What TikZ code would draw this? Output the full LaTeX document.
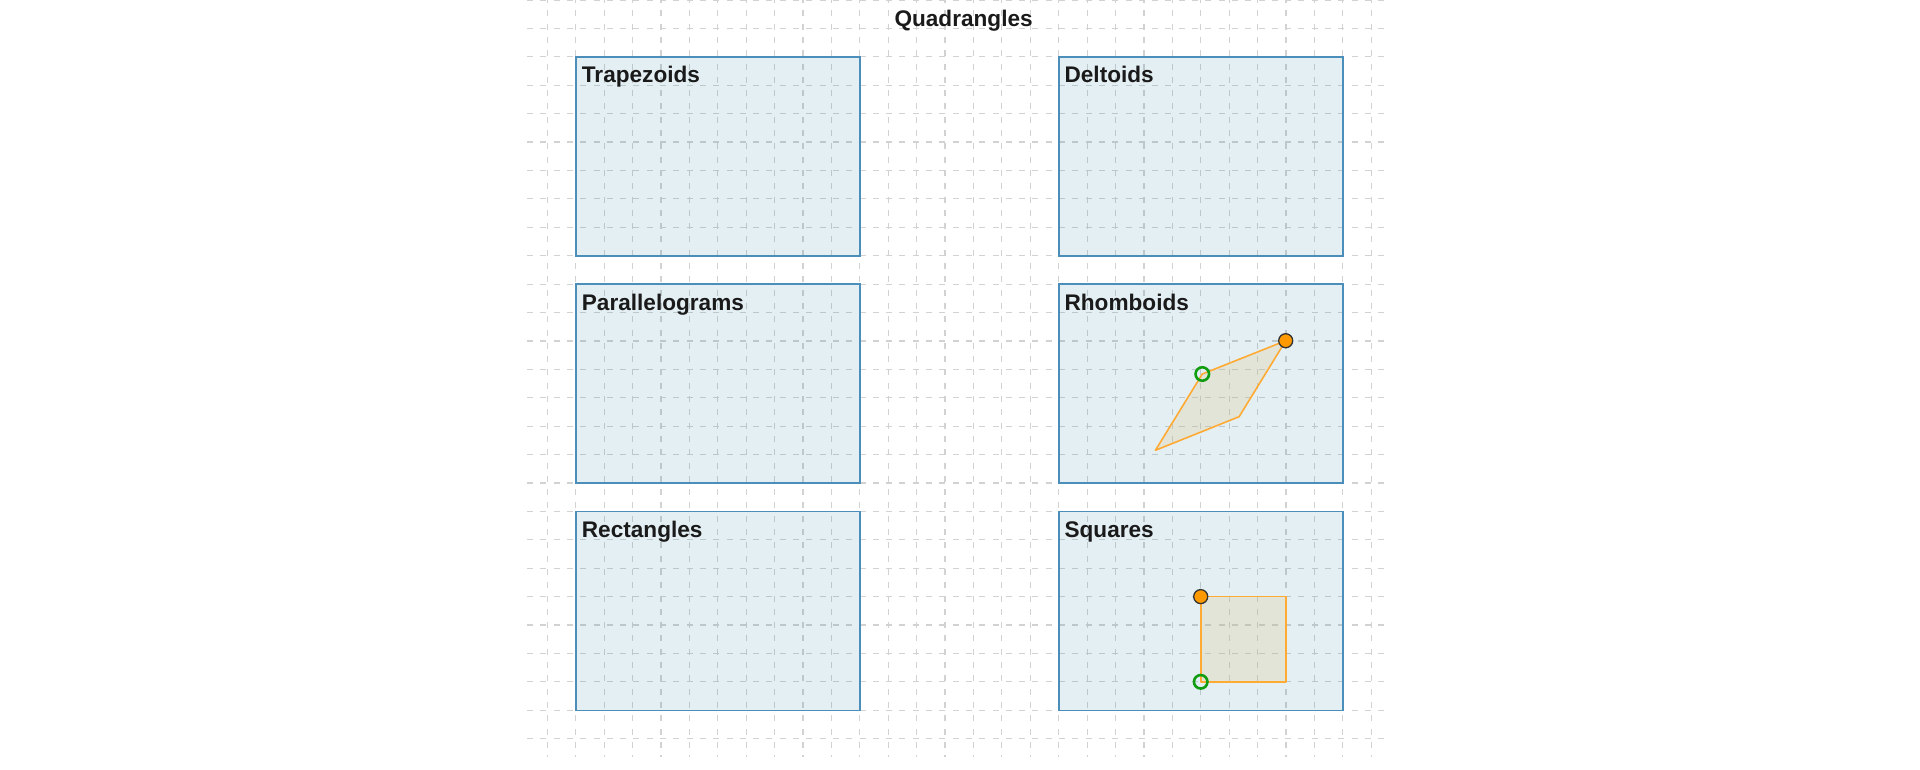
\documentclass[tikz,border=0pt]{standalone}
\usepackage{fontspec}
\setmainfont{Liberation Sans}
\definecolor{gridgray}{HTML}{D2D2D2}
\definecolor{boxstroke}{HTML}{4A8EB9}
\definecolor{boxfill}{HTML}{10739E}
\definecolor{quadstroke}{HTML}{FFAA33}
\definecolor{quadfill}{RGB}{226,198,136}
\definecolor{dotorange}{HTML}{FF9900}
\definecolor{dotstroke}{HTML}{333333}
\definecolor{ringgreen}{HTML}{109E10}
\definecolor{textcol}{HTML}{1A1A1A}
\begin{document}
\begin{tikzpicture}[x=1pt,y=-1pt,
  gridline/.style={draw=gridgray, line width=1.2pt, dash pattern=on 6pt off 7.3pt},
  groupbox/.style={draw=boxstroke, line width=1.6pt, fill=boxfill, fill opacity=0.11, draw opacity=1,
    minimum width=284.1pt, minimum height=198.9pt, inner sep=0pt, outer sep=0pt, anchor=north west},
  lab/.style={text=textcol, inner sep=0pt, font=\fontsize{22.6}{27}\selectfont\bfseries},
  quad/.style={draw=quadstroke, line width=1.6pt, fill=quadfill, fill opacity=0.25, draw opacity=1, line join=round},
  odot/.style={circle, draw=dotstroke, fill=dotorange, line width=1.3pt, minimum size=14pt, inner sep=0pt},
  gring/.style={circle, draw=ringgreen, line width=2.6pt, minimum size=13.5pt, inner sep=0pt}
]
\useasboundingbox (0,0) rectangle (1920,769);
\fill[white] (0,0) rectangle (1920,769);
% background grid
\foreach \i in {0,...,29} \draw[gridline] ({547.3+28.41*\i},-3) -- ({547.3+28.41*\i},756.5);
\foreach \j in {0,...,26} \draw[gridline] (527,{28.41*\j}) -- (1391,{28.41*\j});
% title
\node[lab, anchor=base] (title) at (963.6,26) {Quadrangles};
% group boxes
\node[groupbox] (trap) at (575.7,56.8) {};
\node[groupbox] (delt) at (1058.7,56.8) {};
\node[groupbox] (para) at (575.7,284.1) {};
\node[groupbox] (rhom) at (1058.7,284.1) {};
\node[groupbox] (rect) at (575.7,511.4) {};
\node[groupbox] (squa) at (1058.7,511.4) {};
% labels
\node[lab, anchor=base west] (traplab) at (581.7,82.8) {Trapezoids};
\node[lab, anchor=base west] (deltlab) at (1064.4,82.8) {Deltoids};
\node[lab, anchor=base west] (paralab) at (581.7,310.4) {Parallelograms};
\node[lab, anchor=base west] (rhomlab) at (1064.4,310.4) {Rhomboids};
\node[lab, anchor=base west] (rectlab) at (581.7,537.6) {Rectangles};
\node[lab, anchor=base west] (squalab) at (1064.4,537.6) {Squares};
% rhomboid
\coordinate (rA) at (1202.3,374);
\coordinate (rB) at (1285.7,340.7);
\coordinate (rC) at (1239.1,416.7);
\coordinate (rD) at (1155.4,450.3);
\draw[quad] (rA) -- (rB) -- (rC) -- (rD) -- cycle;
\node[gring] (rgreen) at (rA) {};
\node[odot] (rorange) at (rB) {};
% square
\coordinate (sA) at (1200.7,681.8);
\coordinate (sB) at (1200.7,596.6);
\coordinate (sC) at (1286.0,596.6);
\coordinate (sD) at (1286.0,681.8);
\draw[quad] (sA) -- (sB) -- (sC) -- (sD) -- cycle;
\node[gring] (sgreen) at (sA) {};
\node[odot] (sorange) at (sB) {};
\end{tikzpicture}
\end{document}
